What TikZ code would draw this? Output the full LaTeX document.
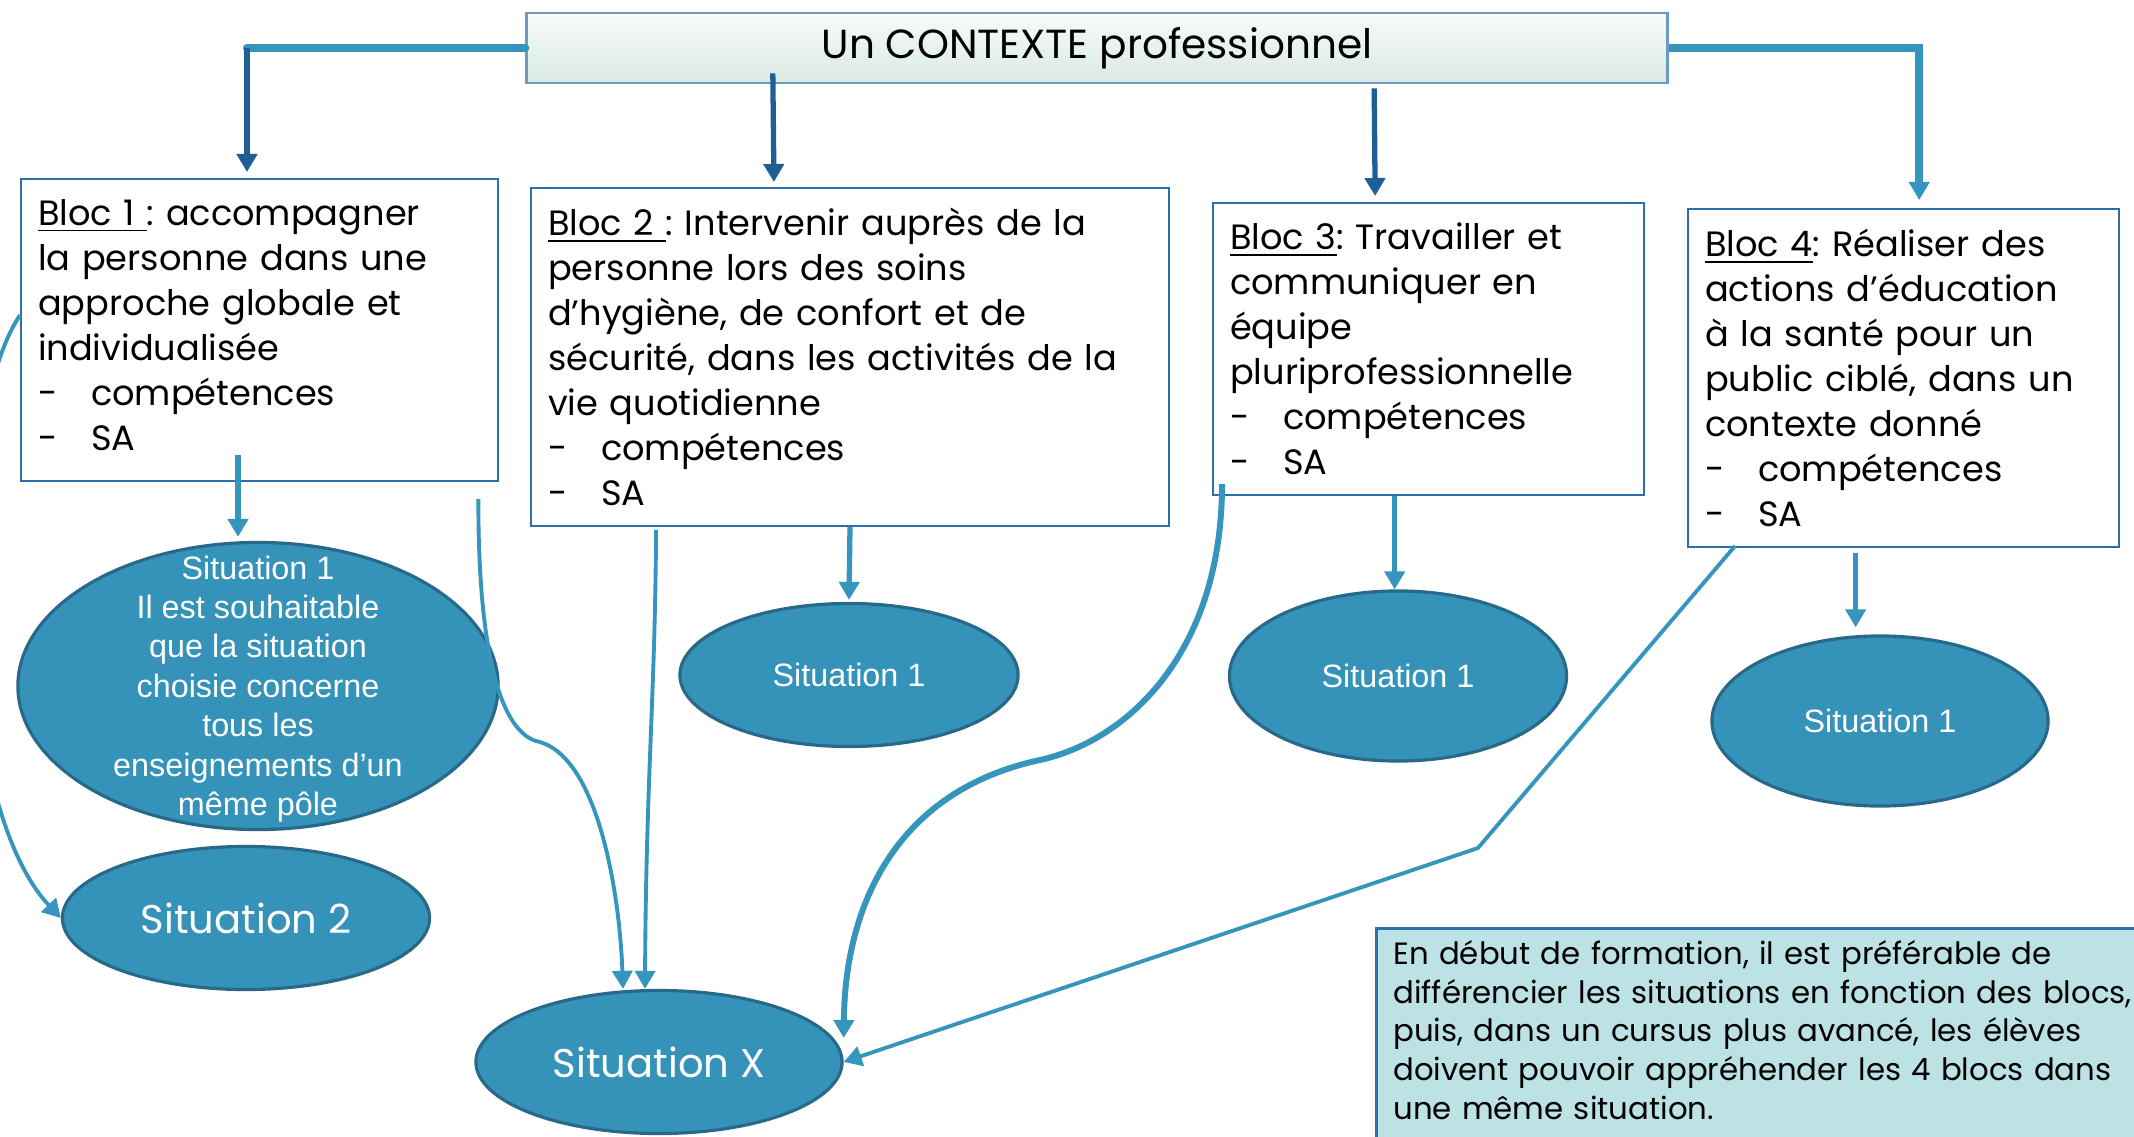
\documentclass[tikz,border=0pt]{standalone}
\usepackage{fontspec}
\setmainfont{Poppins}
\newfontfamily\arialfont{Liberation Sans}
\usetikzlibrary{arrows.meta,shapes.geometric}
\frenchspacing

\definecolor{bleuclair}{HTML}{3595BD}
\definecolor{bleufonce}{HTML}{1F5F96}
\definecolor{bordbloc}{HTML}{2E6FAB}
\definecolor{ovalfond}{HTML}{3593BA}
\definecolor{ovalbord}{HTML}{286888}
\definecolor{notefond}{HTML}{BDE2E6}
\definecolor{titrefond}{HTML}{D9E9E2}

\newcommand{\tiret}[1]{\makebox[0.53cm][l]{-}#1}

\begin{document}
\begin{tikzpicture}[x=0.01cm, y=-0.01cm,
  bloc/.style = {shape=rectangle, draw=bordbloc, line width=0.6pt,
    fill=white, anchor=north west, align=left,
    inner xsep=0.17cm, inner ysep=0.2cm,
    font=\fontsize{10}{12.8}\selectfont},
  situation/.style = {shape=ellipse, draw=ovalbord, line width=0.9pt,
    fill=ovalfond, text=white, inner sep=0pt},
  petit/.style = {font=\arialfont\fontsize{9.2}{11.2}\selectfont},
  grand/.style = {font=\fontsize{11.4}{14}\selectfont},
  fleche/.style = {-{Triangle[length=0.18cm,width=0.2cm]}},
  lien/.style = {draw=bleuclair, line width=1.1pt, fleche}]

\clip (0,0) rectangle (2134,1137);

% le contexte
\node[shape=rectangle, draw=bordbloc!70!white, line width=0.8pt,
  top color=white!80!titrefond, bottom color=titrefond,
  minimum width=11.4cm, minimum height=0.7cm,
  font=\fontsize{11.55}{13}\selectfont] (titre) at (1097,48) {Un CONTEXTE professionnel};

% les blocs
\node[bloc, text width=4.43cm] (bloc1) at (20,178)
  {\underline{Bloc 1\ }: accompagner\\ la personne dans une\\ approche globale et\\
   individualisée\\ \tiret{compétences}\\ \tiret{SA}\\[-0.34cm]\mbox{}};
\node[bloc, text width=6.035cm] (bloc2) at (530,187)
  {\underline{Bloc 2\ }: Intervenir auprès de la\\ personne lors des soins\\
   d’hygiène, de confort et de\\ sécurité, dans les activités de la\\
   vie quotidienne\\ \tiret{compétences}\\ \tiret{SA}};
\node[bloc, text width=3.97cm] (bloc3) at (1212,202)
  {\underline{Bloc 3}: Travailler et\\ communiquer en\\ équipe\\
   pluriprofessionnelle\\ \tiret{compétences}\\ \tiret{SA}};
\node[bloc, text width=3.97cm] (bloc4) at (1687,208)
  {\underline{Bloc 4}: Réaliser des\\ actions d’éducation\\ à la santé pour un\\
   public ciblé, dans un\\ contexte donné\\ \tiret{compétences}\\ \tiret{SA}};

% les situations
\node[situation, minimum width=4.8cm, minimum height=2.87cm] (s11) at (258,686) {};
\node[petit, text=white, align=center, inner sep=0pt] (s11texte) at (258,689)
  {Situation 1\\ Il est souhaitable\\ que la situation\\ choisie concerne\\
   tous les\\ enseignements d’un\\ même pôle};
\node[situation, grand, minimum width=3.67cm, minimum height=1.43cm] (s2) at (246,918) {Situation 2};
\node[situation, grand, minimum width=3.66cm, minimum height=1.43cm] (sx) at (659,1062) {Situation X};
\node[situation, petit, minimum width=3.38cm, minimum height=1.43cm] (s21) at (849,675) {Situation 1};
\node[situation, petit, minimum width=3.37cm, minimum height=1.7cm] (s31) at (1398,676) {Situation 1};
\node[situation, petit, minimum width=3.36cm, minimum height=1.7cm] (s41) at (1880,721) {Situation 1};

% la remarque
\node[shape=rectangle, draw=bordbloc, line width=0.8pt, fill=notefond,
  anchor=north west, align=left, text width=8cm,
  inner xsep=0.17cm, inner ysep=0.12cm,
  font=\fontsize{8.75}{11}\selectfont] (note) at (1375,927)
  {En début de formation, il est préférable de\\
   différencier les situations en fonction des blocs,\\
   puis, dans un cursus plus avancé, les élèves\\
   doivent pouvoir appréhender les 4 blocs dans\\
   une même situation.\\[-0.2cm]\mbox{}};

% du contexte vers les blocs
\coordinate (g) at (247,48);
\draw[bleuclair, line width=2.3pt, line cap=round] (titre.west) -- (g);
\draw[bleufonce, line width=1.5pt, fleche, shorten >=0.06cm] (g) -- (g |- bloc1.north);
\draw[bleufonce, line width=1.5pt, fleche]
  ([xshift=-3.24cm,yshift=0.11cm]titre.south) -- ([xshift=-0.76cm,yshift=0.05cm]bloc2.north);
\draw[bleufonce, line width=1.5pt, fleche]
  ([xshift=2.77cm,yshift=-0.04cm]titre.south) -- ([xshift=-0.535cm,yshift=0.06cm]bloc3.north);
\draw[bleuclair, line width=2.3pt, fleche]
  (titre.east) -| ([xshift=0.155cm,yshift=0.08cm]bloc4.north);

% des blocs vers les situations
\coordinate (d1) at (238,455);
\draw[lien, line width=1.5pt] (d1) -- ([yshift=0.04cm]d1 |- s11.north);
\draw[lien, line width=1.5pt] (bloc2.south) -- ([yshift=0.02cm]s21.north);
\coordinate (d3) at ([xshift=-0.34cm]bloc3.south);
\draw[lien, line width=1.5pt] (d3) -- (d3 |- s31.north);
\coordinate (d4) at ([xshift=-0.48cm,yshift=-0.05cm]bloc4.south);
\draw[lien, line width=1.5pt] (d4) -- ([yshift=0.07cm]d4 |- s41.north);

% vers la situation 2 et la situation X
\draw[lien] ([yshift=0.15cm]bloc1.west) .. controls (-50,420) and (-50,800) .. (s2.west);
\draw[lien] ([xshift=-0.21cm,yshift=-0.17cm]bloc1.south east)
  .. controls (478,650) and (500,735) .. (540,742)
  .. controls (600,760) and (620,900) .. ([xshift=-0.36cm]sx.north);
\draw[lien] ([xshift=1.26cm,yshift=-0.03cm]bloc2.south west)
  .. controls (655,700) and (646,780) .. ([xshift=-0.14cm]sx.north);
\draw[lien, line width=1.7pt] ([xshift=0.1cm,yshift=0.12cm]bloc3.south west)
  .. controls (1222,650) and (1130,740) .. (1040,760)
  .. controls (900,790) and (845,900) .. ([yshift=0.24cm]sx.east);
\coordinate (k) at (1478,848);
\draw[lien] ([xshift=0.48cm,yshift=0.02cm]bloc4.south west) -- (k) -- (sx.east);
\end{tikzpicture}
\end{document}
